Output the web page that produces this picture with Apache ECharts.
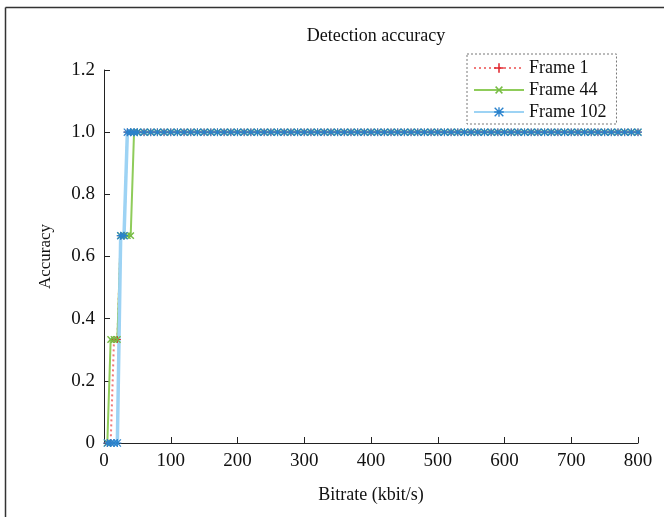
<!DOCTYPE html>
<html>
<head>
<meta charset="utf-8">
<title>Detection accuracy</title>
<script src="https://cdn.jsdelivr.net/npm/echarts@6/dist/echarts.min.js"></script>
<style>
  html, body { margin: 0; padding: 0; background: #fff; }
  #chart { width: 664px; height: 517px; }
</style>
</head>
<body>
<div id="chart"></div>
<script>
// bitrate sample points (kbit/s)
const bitrate = [5, 10, 15, 20, 25, 30, 35, 40, 45, 50,
  60, 70, 80, 90, 100, 110, 120, 130, 140, 150, 160, 170, 180, 190, 200,
  210, 220, 230, 240, 250, 260, 270, 280, 290, 300, 310, 320, 330, 340, 350,
  360, 370, 380, 390, 400, 410, 420, 430, 440, 450, 460, 470, 480, 490, 500,
  510, 520, 530, 540, 550, 560, 570, 580, 590, 600, 610, 620, 630, 640, 650,
  660, 670, 680, 690, 700, 710, 720, 730, 740, 750, 760, 770, 780, 790, 800]

const frame1 = [0, 0, 0.333, 0.333, 0.667, 0.667, 1, 1, 1, 1,
  1, 1, 1, 1, 1, 1, 1, 1, 1, 1, 1, 1, 1, 1, 1,
  1, 1, 1, 1, 1, 1, 1, 1, 1, 1, 1, 1, 1, 1, 1,
  1, 1, 1, 1, 1, 1, 1, 1, 1, 1, 1, 1, 1, 1, 1,
  1, 1, 1, 1, 1, 1, 1, 1, 1, 1, 1, 1, 1, 1, 1,
  1, 1, 1, 1, 1, 1, 1, 1, 1, 1, 1, 1, 1, 1, 1]

const frame44 = [0, 0.333, 0.333, 0.333, 0.667, 0.667, 0.667, 0.667, 1, 1,
  1, 1, 1, 1, 1, 1, 1, 1, 1, 1, 1, 1, 1, 1, 1,
  1, 1, 1, 1, 1, 1, 1, 1, 1, 1, 1, 1, 1, 1, 1,
  1, 1, 1, 1, 1, 1, 1, 1, 1, 1, 1, 1, 1, 1, 1,
  1, 1, 1, 1, 1, 1, 1, 1, 1, 1, 1, 1, 1, 1, 1,
  1, 1, 1, 1, 1, 1, 1, 1, 1, 1, 1, 1, 1, 1, 1]

const frame102 = [0, 0, 0, 0, 0.667, 0.667, 1, 1, 1, 1,
  1, 1, 1, 1, 1, 1, 1, 1, 1, 1, 1, 1, 1, 1, 1,
  1, 1, 1, 1, 1, 1, 1, 1, 1, 1, 1, 1, 1, 1, 1,
  1, 1, 1, 1, 1, 1, 1, 1, 1, 1, 1, 1, 1, 1, 1,
  1, 1, 1, 1, 1, 1, 1, 1, 1, 1, 1, 1, 1, 1, 1,
  1, 1, 1, 1, 1, 1, 1, 1, 1, 1, 1, 1, 1, 1, 1]

const seriesNames = ['Frame 1', 'Frame 44', 'Frame 102']

const font = '"Liberation Serif", "DejaVu Serif", serif'

// marker shapes
const plusPath = 'path://M4.2,0H5.8V4.2H10V5.8H5.8V10H4.2V5.8H0V4.2H4.2Z'
const starPath = 'path://M4.3,0H5.7V10H4.3Z M0,4.3H10V5.7H0Z M0,1L1,0L10,9L9,10Z M9,0L10,1L1,10L0,9Z'

const pairs = (ys) => bitrate.map((x, i) => [x, ys[i]])

const chart = echarts.init(document.getElementById('chart'))

chart.setOption({
  animation: false,
  title: {
    text: 'Detection accuracy',
    left: 371,
    top: 22,
    textAlign: 'center',
    textStyle: { fontFamily: font, fontSize: 18, fontWeight: 'normal', color: '#111' }
  },
  legend: {
    orient: 'vertical',
    left: 467,
    top: 54,
    padding: [5, 10, 3, 6],
    itemWidth: 50,
    itemHeight: 12,
    itemGap: 4,
    borderColor: '#777',
    borderWidth: 1,
    borderType: [2, 2],
    textStyle: { fontFamily: font, fontSize: 18, lineHeight: 18, color: '#111' },
    data: seriesNames
  },
  grid: {
    left: 104,
    right: 26,
    top: 70,
    bottom: 74,
    containLabel: false
  },
  xAxis: {
    type: 'value',
    min: 0,
    max: 800,
    interval: 100,
    name: 'Bitrate (kbit/s)',
    nameLocation: 'middle',
    nameGap: 43,
    nameTextStyle: { fontFamily: font, fontSize: 18, color: '#111' },
    axisLine: { lineStyle: { color: '#222', width: 1 } },
    axisTick: { inside: true, length: 6, lineStyle: { color: '#222' } },
    axisLabel: { fontFamily: font, fontSize: 19, color: '#111', margin: 9 },
    splitLine: { show: false }
  },
  yAxis: {
    type: 'value',
    min: 0,
    max: 1.2,
    interval: 0.2,
    name: 'Accuracy',
    nameLocation: 'middle',
    nameGap: 50,
    nameRotate: 90,
    nameTextStyle: { fontFamily: font, fontSize: 17, color: '#111' },
    axisLine: { show: true, lineStyle: { color: '#222', width: 1 } },
    axisTick: { show: true, inside: true, length: 6, lineStyle: { color: '#222' } },
    axisLabel: {
      fontFamily: font,
      fontSize: 19,
      color: '#111',
      margin: 9,
      formatter: (v) => (v === 0 ? '0' : v.toFixed(1))
    },
    splitLine: { show: false }
  },
  series: [
    {
      name: 'Frame 1',
      type: 'line',
      data: pairs(frame1),
      symbol: plusPath,
      symbolSize: 7,
      showAllSymbol: true,
      lineStyle: { color: '#f07a7a', width: 2, type: [2, 3] },
      itemStyle: { color: '#e0262e' }
    },
    {
      name: 'Frame 44',
      type: 'line',
      data: pairs(frame44),
      symbol: plusPath,
      symbolRotate: 45,
      symbolSize: 9,
      showAllSymbol: true,
      lineStyle: { color: '#8fcc5a', width: 2 },
      itemStyle: { color: '#76bb44' }
    },
    {
      name: 'Frame 102',
      type: 'line',
      data: pairs(frame102),
      symbol: starPath,
      symbolSize: 8,
      showAllSymbol: true,
      lineStyle: { color: '#9dd3f4', width: 3.5 },
      itemStyle: { color: '#2a82cc' }
    }
  ],
  graphic: [
    // outer frame of the figure
    { type: 'line', shape: { x1: 5.5, y1: 7.5, x2: 664, y2: 7.5 }, style: { stroke: '#333', lineWidth: 1.5 } },
    { type: 'line', shape: { x1: 5.5, y1: 7.5, x2: 5.5, y2: 517 }, style: { stroke: '#333', lineWidth: 1.5 } }
  ]
})
</script>
</body>
</html>
